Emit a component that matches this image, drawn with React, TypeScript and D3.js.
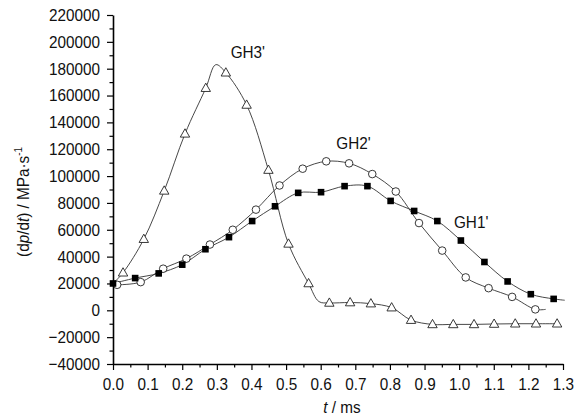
import React, { useEffect, useRef } from 'react';
import * as d3 from 'd3';

// GH1' (filled squares)
const gh1T = [0, 0.064, 0.132, 0.2, 0.267, 0.335, 0.402, 0.468, 0.535, 0.601, 0.669, 0.735, 0.802, 0.87, 0.937, 1.005, 1.073, 1.14, 1.207, 1.273, 1.305];
const gh1V = [20000, 24000, 27500, 34000, 45500, 54500, 66500, 77500, 87500, 88000, 92500, 92500, 81500, 74000, 66500, 52000, 36000, 21500, 12000, 8500, 7500];
const gh1Unmarked = [20];

// GH2' (open circles)
const gh2T = [0.012, 0.08, 0.145, 0.212, 0.28, 0.346, 0.413, 0.481, 0.548, 0.616, 0.682, 0.749, 0.817, 0.884, 0.951, 1.019, 1.085, 1.153, 1.22, 1.25];
const gh2V = [19000, 21000, 31000, 38500, 49000, 60000, 75000, 93000, 105500, 111000, 109500, 101500, 88500, 65000, 44500, 24500, 16500, 10000, 700, 700];
const gh2Unmarked = [19];

// GH3' (open triangles)
const gh3T = [0, 0.029, 0.089, 0.148, 0.208, 0.268, 0.297, 0.326, 0.386, 0.449, 0.507, 0.565, 0.595, 0.625, 0.685, 0.745, 0.805, 0.861, 0.923, 0.983, 1.043, 1.101, 1.162, 1.222, 1.283];
const gh3V = [20000, 28000, 53000, 89000, 131500, 165500, 183000, 177000, 153000, 104500, 49500, 20000, 6500, 5500, 5800, 5000, 2000, -7300, -10500, -10500, -10500, -10200, -10000, -10000, -10000];
const gh3Unmarked = [0, 6, 12];

const yTicks = d3.range(-40000, 220001, 20000);
const yMinor = d3.range(-30000, 220000, 20000);
const xTicks = d3.range(0, 14).map((i) => i / 10);
const xMinor = d3.range(0, 13).map((i) => i / 10 + 0.05);

const labels = [
  { text: "GH3'", t: 0.34, v: 188000 },
  { text: "GH2'", t: 0.645, v: 120000 },
  { text: "GH1'", t: 0.985, v: 61000 },
];

const FONT = '"Liberation Sans", Arial, sans-serif';
const FS = 17;
const SQ = 0.9; // horizontal squeeze of the glyphs

export default function App() {
  const ref = useRef<SVGSVGElement>(null);

  useEffect(() => {
    const svg = d3.select(ref.current);
    svg.selectAll('*').remove();

    const x = d3.scaleLinear().domain([0, 1.3]).range([113, 563]);
    const y = d3.scaleLinear().domain([-40000, 220000]).range([364, 15]);

    const line = d3
      .line<[number, number]>()
      .x((d) => x(d[0]))
      .y((d) => y(d[1]))
      .curve(d3.curveCatmullRom.alpha(0.5));

    const series = [
      { t: gh3T, v: gh3V, hide: gh3Unmarked, kind: 'tri' },
      { t: gh2T, v: gh2V, hide: gh2Unmarked, kind: 'circ' },
      { t: gh1T, v: gh1V, hide: gh1Unmarked, kind: 'sq' },
    ];

    series.forEach((s) => {
      const pts = s.t.map((t, i) => [t, s.v[i]] as [number, number]);
      svg
        .append('path')
        .attr('d', line(pts))
        .attr('fill', 'none')
        .attr('stroke', '#333')
        .attr('stroke-width', 0.9);
    });

    series.forEach((s) => {
      const pts = s.t
        .map((t, i) => ({ t, v: s.v[i], i }))
        .filter((p) => !s.hide.includes(p.i));
      const g = svg.append('g');
      pts.forEach((p) => {
        const cx = x(p.t);
        const cy = y(p.v);
        if (s.kind === 'tri') {
          g.append('path')
            .attr('d', `M${cx},${cy - 5}L${cx + 4.7},${cy + 3.3}L${cx - 4.7},${cy + 3.3}Z`)
            .attr('fill', 'white')
            .attr('stroke', '#222')
            .attr('stroke-width', 0.9);
        } else if (s.kind === 'circ') {
          g.append('circle')
            .attr('cx', cx)
            .attr('cy', cy)
            .attr('r', 3.8)
            .attr('fill', 'white')
            .attr('stroke', '#222')
            .attr('stroke-width', 0.9);
        } else {
          g.append('rect')
            .attr('x', cx - 3.3)
            .attr('y', cy - 3.3)
            .attr('width', 6.6)
            .attr('height', 6.6)
            .attr('fill', '#000');
        }
      });
    });

    // axes
    const yAxis = d3.axisLeft(y).tickValues(yTicks).tickSize(6).tickSizeOuter(0).tickPadding(7).tickFormat(d3.format('d'));
    const yAxisG = svg.append('g').attr('transform', 'translate(113,0)').call(yAxis);
    svg.append('g').attr('transform', 'translate(113,0)')
      .call(d3.axisLeft(y).tickValues(yMinor).tickSize(3.5).tickSizeOuter(0).tickFormat(() => ''))
      .select('.domain').remove();

    const xAxis = d3.axisBottom(x).tickValues(xTicks).tickSize(6).tickSizeOuter(0).tickPadding(8).tickFormat(d3.format('.1f'));
    const xAxisG = svg.append('g').attr('transform', 'translate(0,364)').call(xAxis);
    svg.append('g').attr('transform', 'translate(0,364)')
      .call(d3.axisBottom(x).tickValues(xMinor).tickSize(3.5).tickSizeOuter(0).tickFormat(() => ''))
      .select('.domain').remove();

    [yAxisG, xAxisG].forEach((g) => {
      g.select('.domain').attr('stroke', '#000').attr('stroke-width', 1.6);
      g.selectAll('text').attr('font-family', FONT).attr('font-size', FS).attr('fill', '#111');
    });
    svg.selectAll('.tick line').attr('stroke', '#000').attr('stroke-width', 1.2);

    // squeeze tick labels horizontally around their anchor
    yAxisG.selectAll<SVGTextElement, unknown>('text').each(function () {
      const t = d3.select(this);
      const tx = +t.attr('x');
      t.attr('x', 0).attr('transform', `translate(${tx},0) scale(${SQ},1)`);
    });
    xAxisG.selectAll<SVGTextElement, unknown>('text').each(function () {
      const t = d3.select(this);
      t.attr('transform', `scale(${SQ},1)`);
    });

    labels.forEach((l) => {
      svg.append('text')
        .attr('transform', `translate(${x(l.t)},${y(l.v)}) scale(${SQ},1)`)
        .attr('font-family', FONT)
        .attr('font-size', FS)
        .attr('fill', '#111')
        .text(l.text);
    });

    // y axis title
    const yt = svg.append('text')
      .attr('transform', `translate(29,202) rotate(-90) scale(${SQ},1)`)
      .attr('text-anchor', 'middle')
      .attr('font-family', FONT)
      .attr('font-size', FS)
      .attr('fill', '#111');
    yt.append('tspan').text('(d');
    yt.append('tspan').attr('font-style', 'italic').text('p');
    yt.append('tspan').text('/d');
    yt.append('tspan').attr('font-style', 'italic').text('t');
    yt.append('tspan').text(') / MPa\u00b7s');
    yt.append('tspan').attr('font-size', 11).attr('dy', -7).text('-1');

    // x axis title
    const xt = svg.append('text')
      .attr('transform', `translate(342,413) scale(${SQ},1)`)
      .attr('text-anchor', 'middle')
      .attr('font-family', FONT)
      .attr('font-size', FS)
      .attr('fill', '#111');
    xt.append('tspan').attr('font-style', 'italic').text('t');
    xt.append('tspan').text(' / ms');
  }, []);

  return (
    <svg
      ref={ref}
      width={579}
      height={417}
      style={{ position: 'absolute', left: 0, top: 0, background: 'white' }}
    />
  );
}
